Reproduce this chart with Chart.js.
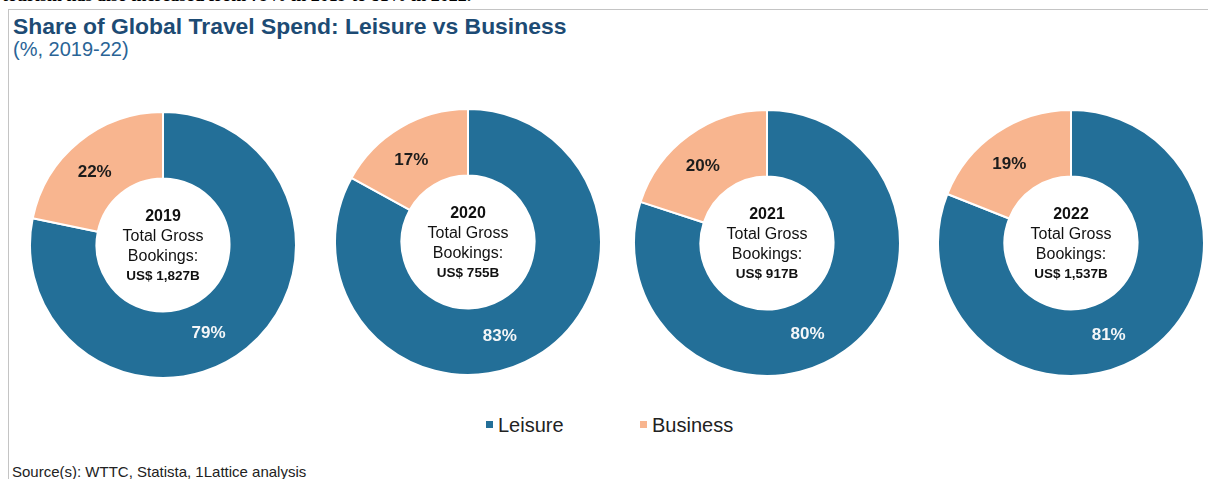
<!DOCTYPE html>
<html>
<head>
<meta charset="utf-8">
<script src="https://cdn.jsdelivr.net/npm/chart.js@4"></script>
<style>
  html, body { margin: 0; padding: 0; background: #fff; }
  body { width: 1208px; height: 479px; position: relative; overflow: hidden; font-family: "Liberation Sans", Arial, sans-serif; }
  .lead { position: absolute; left: 2px; top: -15px; font: bold 18px "Liberation Serif", serif; color: #000; white-space: nowrap; }
  .frame { position: absolute; left: 8px; top: 9px; width: 1220px; height: 500px; border: 1.5px solid #c4c4c4; box-sizing: border-box; }
  .title { position: absolute; left: 13px; top: 13px; font-weight: bold; font-size: 22.9px; color: #1d4b74; white-space: nowrap; }
  .subtitle { position: absolute; left: 13px; top: 38px; font-size: 20px; color: #2a6496; white-space: nowrap; }
  .pie { position: absolute; width: 268px; height: 268px; }
  .legend { position: absolute; top: 414px; font-size: 20px; color: #222; white-space: nowrap; }
  .legend i { display: inline-block; width: 7px; height: 7px; margin-right: 5px; vertical-align: 4px; }
  .source { position: absolute; left: 12px; top: 463px; font-size: 15px; color: #222; white-space: nowrap; }
</style>
</head>
<body>
<div class="lead">tourism has also increased from 79% in 2019 to 81% in 2022.</div>
<div class="frame"></div>
<div class="title">Share of Global Travel Spend: Leisure vs Business</div>
<div class="subtitle">(%, 2019-22)</div>

<div class="pie" style="left:29px;top:111px"><canvas id="pie0"></canvas></div>
<div class="pie" style="left:334px;top:108px"><canvas id="pie1"></canvas></div>
<div class="pie" style="left:633px;top:109px"><canvas id="pie2"></canvas></div>
<div class="pie" style="left:937px;top:109px"><canvas id="pie3"></canvas></div>

<div class="legend" style="left:486px"><i style="background:#236f98"></i>Leisure</div>
<div class="legend" style="left:640px"><i style="background:#f8b58f"></i>Business</div>
<div class="source">Source(s): WTTC, Statista, 1Lattice analysis</div>

<script>
const years = ['2019', '2020', '2021', '2022'];
const leisureShare = [79, 83, 80, 81];
const businessShare = [22, 17, 20, 19];
const grossBookings = ['US$ 1,827B', 'US$ 755B', 'US$ 917B', 'US$ 1,537B'];
const segments = ['Leisure', 'Business'];

const segmentColors = ['#236f98', '#f8b58f'];
const labelColors = ['#f4f6f8', '#1c1c1c'];
// data labels sit a little past the middle of each slice, like the office chart did
const labelShift = [12, -4];

const sliceLabels = {
    id: 'sliceLabels',
    afterDatasetsDraw(chart) {
        const ctx = chart.ctx;
        const meta = chart.getDatasetMeta(0);
        ctx.save();
        ctx.textAlign = 'center';
        ctx.textBaseline = 'middle';
        ctx.font = 'bold 17px "Liberation Sans", Arial, sans-serif';
        meta.data.forEach((arc, i) => {
            const mid = (arc.startAngle + arc.endAngle) / 2 + labelShift[i] * Math.PI / 180;
            const r = (arc.innerRadius + arc.outerRadius) / 2;
            ctx.fillStyle = labelColors[i];
            ctx.fillText(chart.data.datasets[0].data[i] + '%', arc.x + Math.cos(mid) * r, arc.y + Math.sin(mid) * r);
        });
        ctx.restore();
    }
};

const centerText = {
    id: 'centerText',
    afterDraw(chart) {
        const opts = chart.options.plugins.centerText;
        const arc = chart.getDatasetMeta(0).data[0];
        const ctx = chart.ctx;
        ctx.save();
        ctx.textAlign = 'center';
        ctx.textBaseline = 'middle';
        ctx.fillStyle = '#111';
        ctx.font = 'bold 16px "Liberation Sans", Arial, sans-serif';
        ctx.fillText(opts.year, arc.x, arc.y - 28);
        ctx.font = '16px "Liberation Sans", Arial, sans-serif';
        ctx.fillText('Total Gross', arc.x, arc.y - 8);
        ctx.fillText('Bookings:', arc.x, arc.y + 12);
        ctx.font = 'bold 13.5px "Liberation Sans", Arial, sans-serif';
        ctx.fillText(opts.total, arc.x, arc.y + 31);
        ctx.restore();
    }
};

years.forEach((year, k) => {
    new Chart(document.getElementById('pie' + k), {
        type: 'doughnut',
        data: {
            labels: segments,
            datasets: [{
                data: [leisureShare[k], businessShare[k]],
                backgroundColor: segmentColors,
                borderColor: '#ffffff',
                borderWidth: 2
            }]
        },
        options: {
            responsive: true,
            maintainAspectRatio: false,
            animation: false,
            cutout: '50%',
            layout: { padding: 0 },
            plugins: {
                legend: { display: false },
                tooltip: { enabled: false },
                centerText: { year: year, total: grossBookings[k] }
            }
        },
        plugins: [sliceLabels, centerText]
    });
});
</script>
</body>
</html>
